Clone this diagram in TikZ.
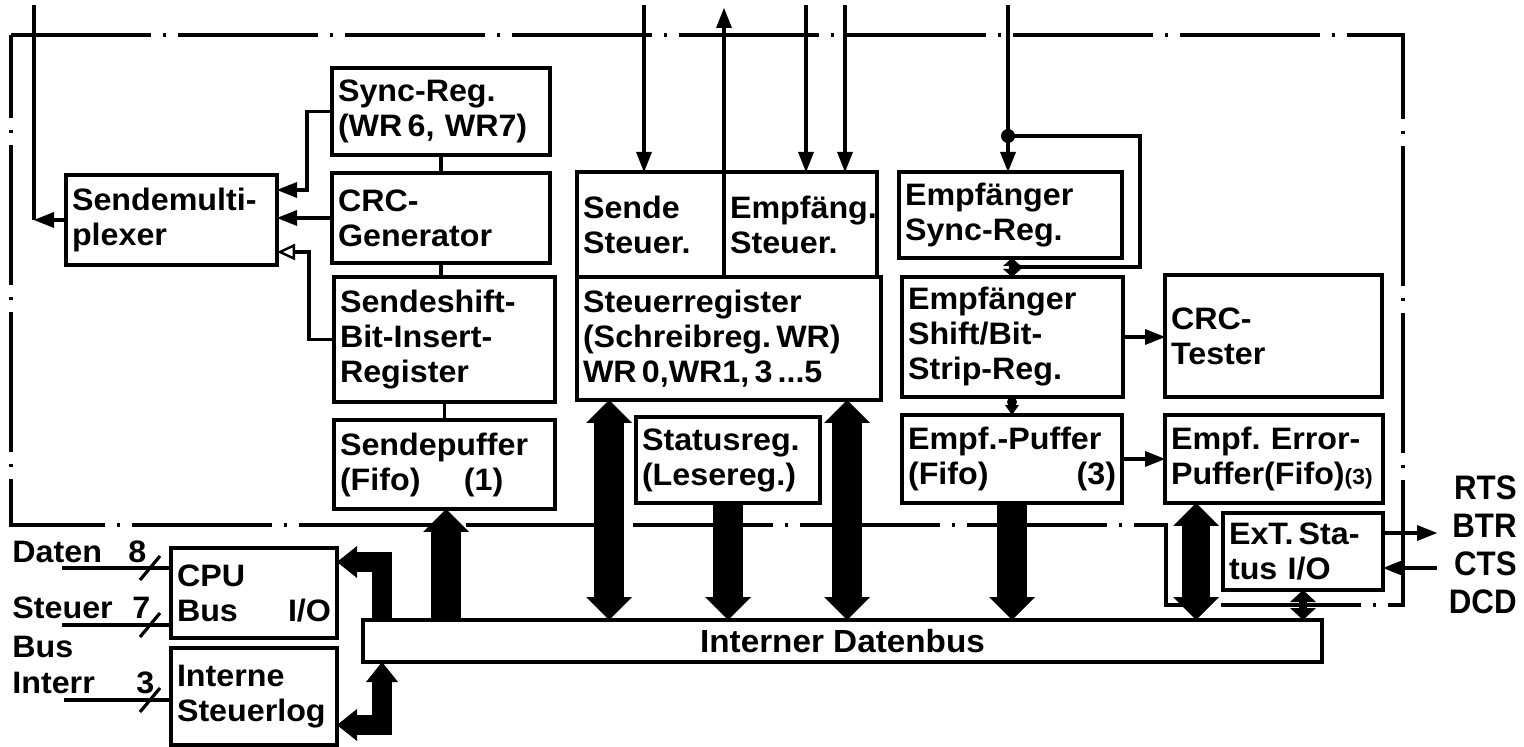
\documentclass[tikz,border=0pt]{standalone}
\usepackage{fontspec}
\setmainfont{Liberation Sans}[FakeStretch=1.04]
\newfontfamily\sigfont{Liberation Sans}[FakeStretch=0.92]
\usetikzlibrary{arrows.meta}
\frenchspacing
\newcommand\boxfont{\fontsize{15.5pt}{17.5pt}\selectfont\bfseries}
\newcommand\bx[6]{%
  \pgfmathsetmacro\bxw{(#4-#2)*0.5-6}%
  \pgfmathsetmacro\bxh{(#5-#3)*0.5}%
  \node[box, text width=\bxw pt, minimum height=\bxh pt, anchor=north west] (#1) at (#2,#3) {#6};}
\tikzset{
  box/.style={draw, line width=2pt, inner xsep=3pt, inner ysep=0pt, outer sep=0pt, align=left, font=\boxfont},
  conn/.style={line width=1.6pt},
  big/.style={line width=15pt, line join=miter},
  bigb/.style={line width=14pt, line join=miter},
  bent/.style={line width=10pt, line join=miter},
  bnd/.style={line width=1.6pt, dash pattern=on 70pt off 6pt on 1.5pt off 6pt},
  lbl/.style={inner sep=0pt, font=\boxfont},
  SmT/.tip={Triangle[width=8pt,length=10pt,line width=0pt]},
  OpT/.tip={Triangle[open,fill=white,width=8pt,length=9pt,line width=1.2pt]},
  BigT/.tip={Triangle[width=23pt,length=11.5pt,line width=0pt]},
  MidT/.tip={Triangle[width=16pt,length=10pt,line width=0pt]},
  TinyT/.tip={Triangle[width=9pt,length=4pt,line width=0pt]},
  SmallT/.tip={Triangle[width=13pt,length=6pt,line width=0pt]},
}
\begin{document}
\begin{tikzpicture}[x=0.5pt,y=-0.5pt]
\useasboundingbox (0,0) rectangle (1524,747);
% chip boundary (dash-dot)
\draw[bnd] (11,35) -- (1403,35) -- (1403,605) -- (1166,605) -- (1166,525) -- (11,525) -- cycle;

% boxes
\bx{sm}{66}{175}{277}{265}{Sendemulti-\\plexer}
\bx{sync}{332}{68}{550}{155}{Sync-Reg.\\(WR\,6, WR7)}
\bx{crcg}{332}{173}{550}{263}{CRC-\\Generator}
\bx{shift}{334}{277}{555}{402}{Sendeshift-\\Bit-Insert-\\Register}
\bx{spuf}{334}{420}{555}{509}{Sendepuffer\\(Fifo)\hspace{1.4em}(1)}
\bx{sst}{577}{172}{724}{277}{Sende\\Steuer.}
\bx{est}{724}{172}{877}{277}{Empfäng.\\Steuer.}
\bx{sreg}{577}{277}{881}{400}{Steuerregister\\(Schreibreg.\,WR)\\WR\,0,WR1,\,3\,...5}
\bx{stat}{636}{417}{820}{503}{Statusreg.\\(Lesereg.)}
\bx{esync}{899}{172}{1122}{258}{Empfänger\\Sync-Reg.}
\bx{eshift}{902}{277}{1123}{397}{Empfänger\\Shift/Bit-\\Strip-Reg.}
\bx{crct}{1165}{275}{1382}{397}{CRC-\\Tester}
\bx{epuf}{902}{415}{1122}{503}{Empf.-Puffer\\(Fifo)\hfill(3)}
\bx{eerr}{1165}{415}{1383}{503}{Empf. Error-\\Puffer(Fifo){\fontsize{11pt}{11pt}\selectfont(3)}}
\bx{ext}{1223}{513}{1383}{590}{ExT.\,Sta-\\tus I/O}
\bx{cpu}{171}{548}{337}{638}{CPU\\Bus\hfill I/O}
\bx{slog}{171}{648}{337}{745}{Interne\\Steuerlog}
\node[draw, line width=2pt, inner sep=0pt, outer sep=0pt, anchor=north west,
      minimum width=479.5pt, minimum height=21pt, font=\fontsize{16pt}{18pt}\selectfont\bfseries]
      (bus) at (363,620) {Interner Datenbus};

% coordinates
\coordinate (tx) at (34,5);
\coordinate (a1) at (307,190);
\coordinate (a2) at (309,252);
\coordinate (t1) at (644,5);
\coordinate (t2) at (724,8);
\coordinate (t3) at (806,5);
\coordinate (t4) at (845,5);
\coordinate (t5) at (1008,5);
\coordinate (dot1) at (1008,136);
\coordinate (lp) at (1140,267);
\coordinate (cx) at (1012,0);
\coordinate (xa) at (446,0);
\coordinate (xb) at (609,0);
\coordinate (xc) at (847,0);
\coordinate (xd) at (1196,0);
\coordinate (xe) at (1303,0);
\coordinate (bc1) at (382,562);
\coordinate (bc2) at (382,725);
\coordinate (rts) at (1437,533);
\coordinate (cts) at (1437,568);
\coordinate (inD) at (62,568);
\coordinate (inS) at (62,625);
\coordinate (inI) at (64,700);

% transmitter side
\draw[conn,-{SmT}] (sm.west) -- (sm.west -| tx);
\draw[conn] (sm.west -| tx) -- (tx);
\draw[conn,-{SmT}] (sync.west) -| (a1) -- (a1 -| sm.east);
\draw[conn,-{SmT}] (crcg.west) -- (crcg.west -| sm.east);
\draw[conn,-{OpT}] (shift.west) -| (a2) -- (a2 -| sm.east);
\draw[conn] (sync.south) -- (crcg.north);
\draw[conn] (crcg.south) -- (crcg.south |- shift.north);
\draw[conn] (shift.south) -- (shift.south |- spuf.north);

% control lines from top
\draw[conn,-{SmT}] (t1) -- (t1 |- sst.north);
\draw[conn,-{SmT}] (sst.north east) -- (t2);
\draw[conn,-{SmT}] (t3) -- (t3 |- est.north);
\draw[conn,-{SmT}] (t4) -- (t4 |- est.north);

% receiver side
\draw[conn,-{SmT}] (t5) -- (t5 |- esync.north);
\fill (dot1) circle (3.5pt);
\draw[conn] (dot1) -| (lp) -- (lp -| cx);
\draw[line width=3pt,{TinyT}-{TinyT}] (esync.south -| cx) -- (eshift.north -| cx);
\draw[conn,{Circle[length=5pt,line width=0pt]}-{Triangle[width=7pt,length=5pt,line width=0pt]}] (eshift.south -| cx) -- (epuf.north -| cx);
\draw[conn,-{SmT}] (eshift.east) -- (eshift.east -| crct.west);
\draw[conn,-{SmT}] (epuf.east) -- (epuf.east -| eerr.west);

% bus arrows
\draw[big,-{BigT}] (bus.north -| xa) -- (spuf.south -| xa);
\draw[big,{BigT}-{BigT}] (sreg.south -| xb) -- (bus.north -| xb);
\draw[big,-{BigT}] (stat.south) -- (stat.south |- bus.north);
\draw[big,{BigT}-{BigT}] (sreg.south -| xc) -- (bus.north -| xc);
\draw[big,-{BigT}] (epuf.south) -- (epuf.south |- bus.north);
\draw[bigb,{BigT}-{BigT}] (eerr.south -| xd) -- (bus.north -| xd);
\draw[line width=4pt,{SmallT}-{SmallT}] (ext.south -| xe) -- (bus.north -| xe);
\draw[bent,-{MidT}] (bus.north -| bc1) -- (bc1) -- (bc1 -| cpu.east);
\draw[bent,{MidT}-{MidT}] (bc2 -| slog.east) -- (bc2) -- (bc2 |- bus.south);

% modem signals
\draw[conn,-{SmT}] (ext.east |- rts) -- (rts);
\draw[conn,-{SmT}] (cts) -- (cts -| ext.east);
\node[inner sep=0pt, align=right, anchor=east, font=\sigfont\fontsize{17pt}{19pt}\selectfont\bfseries] (sig) at (1517,545) {RTS\\BTR\\CTS\\DCD};

% CPU side inputs
\draw[conn] (inD) -- (inD -| cpu.west);
\draw[conn] (inS) -- (inS -| cpu.west);
\draw[conn] (inI) -- (inI -| slog.west);
\draw[conn] (140,580) -- (160,556);
\draw[conn] (140,637) -- (160,613);
\draw[conn] (140,712) -- (160,688);
\node[lbl, anchor=base west] (ldaten) at (12,563) {Daten};
\node[lbl, anchor=base west] (l8) at (128,563) {8};
\node[lbl, anchor=base west] (lsteuer) at (12,618) {Steuer};
\node[lbl, anchor=base west] (l7) at (132,618) {7};
\node[lbl, anchor=base west] (lbus) at (12,657) {Bus};
\node[lbl, anchor=base west] (linterr) at (12,693) {Interr};
\node[lbl, anchor=base west] (l3) at (136,693) {3};
\end{tikzpicture}
\end{document}
